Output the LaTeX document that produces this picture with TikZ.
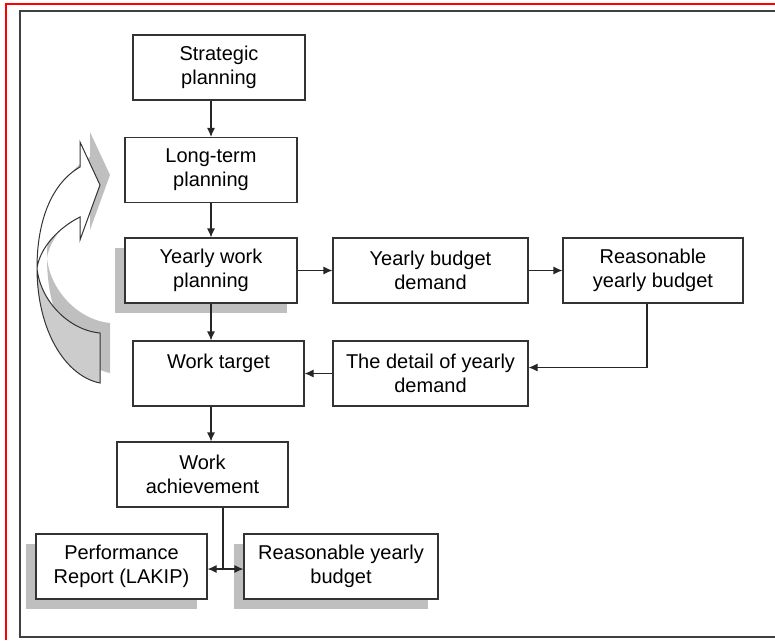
\documentclass[tikz,border=0pt]{standalone}
\usepackage{fontspec}
\setmainfont{Liberation Sans}
\usetikzlibrary{shadows,arrows.meta}
\definecolor{shadowgray}{gray}{0.75}
\definecolor{ribbongray}{gray}{0.8}
% the two halves of the curved arrow on the left
\newcommand{\ribbontop}{(100,185) -- (80,142) -- (80,167) .. controls (52,183) and (37,220) .. (37,268) .. controls (40,248) and (58,228) .. (80,217) -- (80,240) -- cycle}
\newcommand{\ribbonbottom}{(37,268) .. controls (37,330) and (65,376) .. (100,383) -- (100,333) .. controls (68,330) and (40,300) .. (37,268) -- cycle}
\begin{document}
\begin{tikzpicture}[x=1pt,y=-1pt,
  box/.style={draw=black!80,line width=1.1pt,fill=white,align=center,inner sep=0pt,
    minimum height=65pt,font=\fontsize{20}{24}\selectfont},
  shadowbox/.style={box,drop shadow={shadow xshift=-10pt,shadow yshift=-10pt,fill=shadowgray,opacity=1}},
  line/.style={draw=black!85,line width=1.1pt},
  >={Latex[length=9pt,width=8pt]}]
\useasboundingbox (0,0) rectangle (775,640);
% frames
\draw[red,line width=1.3pt] (6,640) -- (6,4) -- (775,4);
\draw[black!75,line width=1.5pt] (775,11) -- (20,11) -- (20,637) -- (775,637);

% curved arrow
\fill[shadowgray,shift={(10,-10)}] \ribbontop \ribbonbottom;
\filldraw[fill=white,draw=black!80,line width=1pt] \ribbontop;
\filldraw[fill=ribbongray,draw=black!80,line width=1pt] \ribbonbottom;

% boxes
\node[box,minimum width=172pt] (strat) at (219,67.5) {Strategic\\planning};
\node[box,minimum width=172pt] (longterm) at (211,170) {Long-term\\planning};
\node[shadowbox,minimum width=172pt] (yearly) at (211,270.5) {Yearly work\\planning};
\node[box,minimum width=195pt] (budget) at (430.5,270.5) {Yearly budget\\demand};
\node[box,minimum width=180pt] (reason) at (653,270.5) {Reasonable\\yearly budget};
\node[box,minimum width=171pt] (target) at (218.5,373.5) {Work target\\~};
\node[box,minimum width=195pt] (detail) at (430.5,373.5) {The detail of yearly\\demand};
\node[box,minimum width=171pt] (achieve) at (202.5,474.5) {Work\\achievement};
\node[shadowbox,minimum width=171pt] (lakip) at (121.5,566.5) {Performance\\Report (LAKIP)};
\node[shadowbox,minimum width=194pt] (reason2) at (341,566.5) {Reasonable yearly\\budget};

% connectors
\draw[line,->] (strat.south -| longterm) -- (longterm.north);
\draw[line,->] (longterm.south) -- (yearly.north);
\draw[line,->] (yearly.south) -- (yearly.south |- target.north);
\draw[line,->] (yearly.south |- target.south) -- (yearly.south |- achieve.north);
\draw[line,->] (yearly) -- (budget);
\draw[line,->] (budget) -- (reason);
\draw[line,->] ([xshift=-6pt]reason.south) |- ([yshift=6pt]detail.east);
\draw[line,->] (detail) -- (target);
\coordinate (split) at (223,569);
\draw[line] (achieve.south -| split) -- (split);
\draw[line,->] (split) -- (lakip.east |- split);
\draw[line,->] (split) -- (reason2.west |- split);
\end{tikzpicture}
\end{document}
